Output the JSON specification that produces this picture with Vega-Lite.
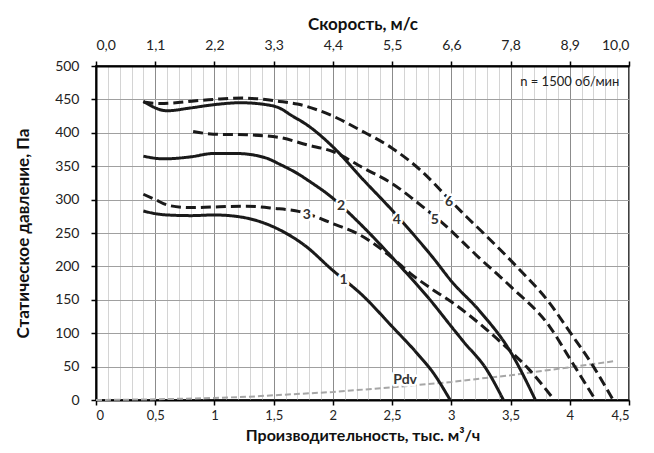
{
  "$schema": "https://vega.github.io/schema/vega-lite/v6.json",
  "width": 533,
  "height": 334,
  "autosize": {"type": "none"},
  "padding": {"left": 96, "top": 66, "right": 25, "bottom": 53},
  "background": "white",
  "config": {
    "font": "Lato",
    "view": {"stroke": "#404040", "strokeWidth": 2},
    "axis": {"labelFont": "Lato", "titleFont": "Lato", "labelFontSize": 14, "labelColor": "#222", "titleColor": "#111", "titleFontSize": 17, "titleFontWeight": "bold"}
  },
  "datasets": {
    "curves": [
      {"q": 0.40, "p": 283, "c": "1"}, {"q": 0.50, "p": 279, "c": "1"}, {"q": 0.60, "p": 277, "c": "1"}, {"q": 0.80, "p": 276, "c": "1"}, {"q": 1.00, "p": 277, "c": "1"}, {"q": 1.22, "p": 274, "c": "1"}, {"q": 1.50, "p": 259, "c": "1"}, {"q": 1.78, "p": 229, "c": "1"}, {"q": 1.98, "p": 197, "c": "1"}, {"q": 2.26, "p": 155, "c": "1"}, {"q": 2.50, "p": 110, "c": "1"}, {"q": 2.71, "p": 70, "c": "1"}, {"q": 2.85, "p": 40, "c": "1"}, {"q": 2.99, "p": 0, "c": "1"},
      {"q": 0.40, "p": 365, "c": "2"}, {"q": 0.57, "p": 361, "c": "2"}, {"q": 0.80, "p": 364, "c": "2"}, {"q": 0.99, "p": 369, "c": "2"}, {"q": 1.19, "p": 369, "c": "2"}, {"q": 1.44, "p": 362, "c": "2"}, {"q": 1.55, "p": 353, "c": "2"}, {"q": 1.72, "p": 337, "c": "2"}, {"q": 1.78, "p": 330, "c": "2"}, {"q": 2.00, "p": 302, "c": "2"}, {"q": 2.20, "p": 269, "c": "2"}, {"q": 2.57, "p": 200, "c": "2"}, {"q": 2.82, "p": 150, "c": "2"}, {"q": 3.00, "p": 110, "c": "2"}, {"q": 3.10, "p": 88, "c": "2"}, {"q": 3.30, "p": 45, "c": "2"}, {"q": 3.44, "p": 0, "c": "2"},
      {"q": 0.40, "p": 308, "c": "3"}, {"q": 0.50, "p": 300, "c": "3"}, {"q": 0.62, "p": 291, "c": "3"}, {"q": 0.80, "p": 288, "c": "3"}, {"q": 0.99, "p": 289, "c": "3"}, {"q": 1.27, "p": 290, "c": "3"}, {"q": 1.50, "p": 287, "c": "3"}, {"q": 1.72, "p": 282, "c": "3"}, {"q": 2.00, "p": 264, "c": "3"}, {"q": 2.23, "p": 247, "c": "3"}, {"q": 2.50, "p": 213, "c": "3"}, {"q": 2.65, "p": 190, "c": "3"}, {"q": 2.82, "p": 168, "c": "3"}, {"q": 3.00, "p": 147, "c": "3"}, {"q": 3.30, "p": 105, "c": "3"}, {"q": 3.50, "p": 73, "c": "3"}, {"q": 3.65, "p": 47, "c": "3"}, {"q": 3.86, "p": 2, "c": "3"},
      {"q": 0.40, "p": 447, "c": "4"}, {"q": 0.60, "p": 433, "c": "4"}, {"q": 0.79, "p": 437, "c": "4"}, {"q": 0.99, "p": 442, "c": "4"}, {"q": 1.22, "p": 445, "c": "4"}, {"q": 1.44, "p": 442, "c": "4"}, {"q": 1.55, "p": 437, "c": "4"}, {"q": 1.65, "p": 426, "c": "4"}, {"q": 1.78, "p": 412, "c": "4"}, {"q": 2.00, "p": 379, "c": "4"}, {"q": 2.26, "p": 329, "c": "4"}, {"q": 2.50, "p": 284, "c": "4"}, {"q": 2.57, "p": 270, "c": "4"}, {"q": 2.85, "p": 212, "c": "4"}, {"q": 3.00, "p": 178, "c": "4"}, {"q": 3.24, "p": 133, "c": "4"}, {"q": 3.50, "p": 72, "c": "4"}, {"q": 3.71, "p": 0, "c": "4"},
      {"q": 0.82, "p": 402, "c": "5"}, {"q": 0.99, "p": 398, "c": "5"}, {"q": 1.27, "p": 397, "c": "5"}, {"q": 1.55, "p": 393, "c": "5"}, {"q": 1.78, "p": 382, "c": "5"}, {"q": 2.00, "p": 372, "c": "5"}, {"q": 2.26, "p": 347, "c": "5"}, {"q": 2.50, "p": 324, "c": "5"}, {"q": 2.76, "p": 289, "c": "5"}, {"q": 2.90, "p": 269, "c": "5"}, {"q": 3.24, "p": 212, "c": "5"}, {"q": 3.50, "p": 170, "c": "5"}, {"q": 3.83, "p": 110, "c": "5"}, {"q": 4.00, "p": 62, "c": "5"}, {"q": 4.21, "p": 2, "c": "5"},
      {"q": 0.40, "p": 446, "c": "6"}, {"q": 0.54, "p": 444, "c": "6"}, {"q": 0.99, "p": 450, "c": "6"}, {"q": 1.24, "p": 452, "c": "6"}, {"q": 1.55, "p": 447, "c": "6"}, {"q": 1.70, "p": 443, "c": "6"}, {"q": 2.00, "p": 425, "c": "6"}, {"q": 2.23, "p": 404, "c": "6"}, {"q": 2.50, "p": 377, "c": "6"}, {"q": 2.74, "p": 344, "c": "6"}, {"q": 2.99, "p": 299, "c": "6"}, {"q": 3.13, "p": 274, "c": "6"}, {"q": 3.27, "p": 250, "c": "6"}, {"q": 3.55, "p": 200, "c": "6"}, {"q": 3.83, "p": 145, "c": "6"}, {"q": 4.00, "p": 102, "c": "6"}, {"q": 4.20, "p": 50, "c": "6"}, {"q": 4.36, "p": 2, "c": "6"}
    ],
    "pdv": [
      {"q": 0.0, "p": 0}, {"q": 0.5, "p": 1}, {"q": 1.0, "p": 3}, {"q": 1.3, "p": 5}, {"q": 1.5, "p": 7}, {"q": 2.0, "p": 12}, {"q": 2.5, "p": 19}, {"q": 3.0, "p": 27}, {"q": 3.24, "p": 32}, {"q": 3.5, "p": 37}, {"q": 3.83, "p": 45}, {"q": 4.0, "p": 49}, {"q": 4.37, "p": 58}
    ],
    "labels": [
      {"q": 2.09, "p": 180, "t": "1"}, {"q": 2.07, "p": 290, "t": "2"}, {"q": 1.78, "p": 277, "t": "3"}, {"q": 2.54, "p": 270, "t": "4"}, {"q": 2.86, "p": 269, "t": "5"}, {"q": 2.98, "p": 297, "t": "6"}, {"q": 2.61, "p": 30, "t": "Pdv"}
    ]
  },
  "resolve": {"axis": {"x": "independent", "y": "independent"}},
  "layer": [
    {
      "data": {"name": "pdv"},
      "mark": {"type": "line", "color": "#a6a6a6", "strokeWidth": 2, "strokeDash": [6, 3]},
      "encoding": {
        "x": {"field": "q", "type": "quantitative", "scale": {"domain": [0, 4.5], "nice": false, "zero": false},
          "axis": {"orient": "bottom", "values": [0.1,0.2,0.3,0.4,0.6,0.7,0.8,0.9,1.1,1.2,1.3,1.4,1.6,1.7,1.8,1.9,2.1,2.2,2.3,2.4,2.6,2.7,2.8,2.9,3.1,3.2,3.3,3.4,3.6,3.7,3.8,3.9,4.1,4.2,4.3,4.4], "grid": true, "gridColor": "#d4d4d4", "gridWidth": 1, "labels": false, "ticks": false, "domain": false, "title": null}},
        "y": {"field": "p", "type": "quantitative", "scale": {"domain": [0, 500], "nice": false}, "axis": null}
      }
    },
    {
      "data": {"name": "curves"},
      "mark": {"type": "line", "color": "#1a1a1a", "strokeWidth": 3, "interpolate": "monotone"},
      "encoding": {
        "x": {"field": "q", "type": "quantitative",
          "axis": {"orient": "bottom", "values": [0,0.5,1,1.5,2,2.5,3,3.5,4,4.5], "grid": true, "gridColor": "#8c8c8c", "gridWidth": 1, "domainColor": "#000", "domainWidth": 2, "tickColor": "#000", "tickWidth": 1.5, "tickSize": 5, "labelPadding": 4, "labelFontSize": 13, "labelExpr": "replace(toString(datum.value), '.', ',')", "title": "Производительность, тыс. м³/ч", "titleFontSize": 16, "titlePadding": 5}},
        "y": {"field": "p", "type": "quantitative",
          "axis": {"orient": "left", "values": [0,50,100,150,200,250,300,350,400,450,500], "grid": true, "gridColor": "#a0a0a0", "gridWidth": 1, "domainColor": "#000", "domainWidth": 2, "tickColor": "#000", "tickWidth": 1.5, "tickSize": 5, "labelPadding": 12, "title": "Статическое давление, Па", "titlePadding": 22}},
        "detail": {"field": "c"},
        "strokeDash": {"field": "c", "type": "nominal", "scale": {"domain": ["1","2","3","4","5","6"], "range": [[1,0],[1,0],[10,5],[1,0],[10,5],[10,5]]}, "legend": null}
      }
    },
    {
      "data": {"name": "labels"},
      "mark": {"type": "text", "fontWeight": "bold", "fontSize": 14, "stroke": "white", "strokeWidth": 5, "strokeJoin": "round", "fill": "white"},
      "encoding": {
        "x": {"field": "q", "type": "quantitative", "axis": null},
        "y": {"field": "p", "type": "quantitative", "axis": null},
        "text": {"field": "t"}
      }
    },
    {
      "data": {"name": "labels"},
      "mark": {"type": "text", "fontWeight": "bold", "fontSize": 14, "color": "#333"},
      "encoding": {
        "x": {"field": "q", "type": "quantitative", "axis": null},
        "y": {"field": "p", "type": "quantitative", "axis": null},
        "text": {"field": "t"}
      }
    },
    {
      "data": {"values": [{"q": 4.0, "p": 476, "t": "n = 1500 об/мин"}]},
      "mark": {"type": "text", "fontSize": 13, "color": "#222"},
      "encoding": {
        "x": {"field": "q", "type": "quantitative",
          "axis": {"orient": "top", "values": [0,0.5,1,1.5,2,2.5,3,3.5,4,4.5], "grid": false, "domainColor": "#000", "domainWidth": 2, "tickColor": "#000", "tickWidth": 1.5, "tickSize": 5, "labelPadding": 9, "labelExpr": "['0,0','1,1','2,2','3,3','4,4','5,5','6,6','7,8','8,9','10,0'][round(datum.value*2)]", "title": "Скорость, м/с", "titlePadding": 5}},
        "y": {"field": "p", "type": "quantitative", "axis": null},
        "text": {"field": "t"}
      }
    }
  ]
}
